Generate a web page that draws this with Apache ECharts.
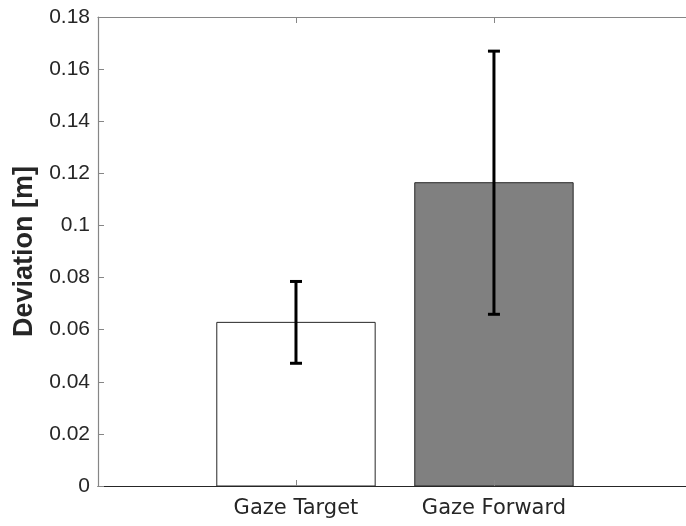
<!DOCTYPE html>
<html>
<head>
<meta charset="utf-8">
<script src="https://cdn.jsdelivr.net/npm/echarts@6/dist/echarts.min.js"></script>
<style>
  html, body { margin: 0; padding: 0; background: #fff; }
  #chart { width: 686px; height: 526px; }
</style>
</head>
<body>
<div id="chart"></div>
<script>
// Condition names and their positions on the x axis
const categories = ['Gaze Target', 'Gaze Forward'];
const positions = [1, 2];
// Mean deviation and error (half-length of the error bar), metres
const means = [0.0628, 0.1164];
const errors = [0.0157, 0.0505];
const barFills = ['#ffffff', '#808080'];
// Y axis range and tick step
const yMin = 0;
const yMax = 0.18;
const yStep = 0.02;
// Visible x range (the plot box is clipped at the right edge)
const xMin = 0;
const xMax = 2.97;

const barHalfWidth = 0.4;
const axisGray = '#868686';

const barData = positions.map((p, i) => [p, means[i], i]);
const errData = positions.map((p, i) => [p, means[i] - errors[i], means[i] + errors[i]]);

const chart = echarts.init(document.getElementById('chart'));
chart.setOption({
  animation: false,
  backgroundColor: '#ffffff',
  grid: { left: 98, top: 17, right: 0, bottom: 40 },
  xAxis: [
    {
      type: 'value', min: xMin, max: xMax, position: 'bottom', z: 10,
      axisLine: { show: true, onZero: false, lineStyle: { color: '#262626', width: 1.2 } },
      axisTick: { show: true, inside: true, length: 6, customValues: positions, lineStyle: { color: axisGray } },
      axisLabel: {
        customValues: positions,
        formatter: v => categories[positions.indexOf(v)] || '',
        margin: 12, color: '#262626', fontSize: 21,
        fontFamily: '"DejaVu Sans", sans-serif'
      },
      splitLine: { show: false }
    },
    {
      type: 'value', min: xMin, max: xMax, position: 'top', z: 10,
      axisLine: { show: true, onZero: false, lineStyle: { color: axisGray, width: 1.2 } },
      axisTick: { show: true, inside: true, length: 6, customValues: positions, lineStyle: { color: axisGray } },
      axisLabel: { show: false },
      splitLine: { show: false }
    }
  ],
  yAxis: {
    type: 'value', min: yMin, max: yMax, interval: yStep, z: 10,
    name: 'Deviation [m]', nameLocation: 'middle', nameGap: 55,
    nameTextStyle: { fontSize: 27, fontWeight: 'bold', color: '#262626', fontFamily: '"Liberation Sans", Arial, sans-serif' },
    axisLine: { show: true, lineStyle: { color: axisGray, width: 1.2 } },
    axisTick: { show: true, inside: true, length: 6, lineStyle: { color: axisGray } },
    axisLabel: {
      margin: 8, color: '#262626', fontSize: 21,
      fontFamily: '"Liberation Sans", Arial, sans-serif',
      formatter: v => String(+v.toFixed(2))
    },
    splitLine: { show: false }
  },
  series: [
    {
      type: 'custom', z: 2,
      data: barData,
      encode: { x: 0, y: 1 },
      renderItem: (params, api) => {
        const x = api.value(0), y = api.value(1), idx = api.value(2);
        const p0 = api.coord([x - barHalfWidth, 0]);
        const p1 = api.coord([x + barHalfWidth, y]);
        return {
          type: 'rect',
          shape: { x: p0[0], y: p1[1], width: p1[0] - p0[0], height: p0[1] - p1[1] },
          style: { fill: barFills[idx], stroke: '#262626', lineWidth: 1 }
        };
      }
    },
    {
      type: 'custom', z: 20,
      data: errData,
      encode: { x: 0, y: [1, 2] },
      renderItem: (params, api) => {
        const x = api.value(0);
        const lo = api.coord([x, api.value(1)]);
        const hi = api.coord([x, api.value(2)]);
        const cap = 6;
        const st = { stroke: '#000000', lineWidth: 3 };
        return {
          type: 'group',
          children: [
            { type: 'line', shape: { x1: lo[0], y1: lo[1], x2: hi[0], y2: hi[1] }, style: st },
            { type: 'line', shape: { x1: lo[0] - cap, y1: lo[1], x2: lo[0] + cap, y2: lo[1] }, style: st },
            { type: 'line', shape: { x1: hi[0] - cap, y1: hi[1], x2: hi[0] + cap, y2: hi[1] }, style: st }
          ]
        };
      }
    }
  ]
});
</script>
</body>
</html>
